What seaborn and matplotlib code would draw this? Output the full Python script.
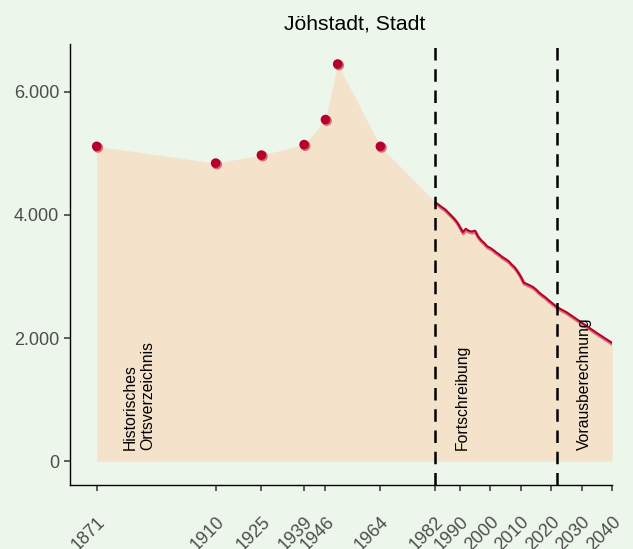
import matplotlib
matplotlib.use("Agg")
import matplotlib.pyplot as plt
import matplotlib.transforms as mtransforms
from matplotlib.ticker import FuncFormatter
import pandas as pd
import seaborn as sns

# Historisches Ortsverzeichnis
hist_years = [1871, 1910, 1925, 1939, 1946, 1950, 1964]
hist_pop = [5113, 4841, 4971, 5141, 5548, 6450, 5113]

# Fortschreibung
fort_years = [1982, 1983, 1984, 1985, 1986, 1987, 1988, 1989, 1990, 1991,
              1992, 1993, 1994, 1995, 1996, 1997, 1998, 1999, 2000, 2001,
              2002, 2003, 2004, 2005, 2006, 2007, 2008, 2009, 2010, 2011,
              2012, 2013, 2014, 2015, 2016, 2017, 2018, 2019, 2020, 2021]
fort_pop = [4205, 4170, 4130, 4098, 4050, 4000, 3950, 3890, 3810, 3720,
            3775, 3740, 3730, 3745, 3650, 3590, 3545, 3490, 3465, 3430,
            3390, 3355, 3315, 3285, 3250, 3195, 3150, 3080, 3000, 2900,
            2880, 2855, 2830, 2790, 2740, 2700, 2665, 2620, 2580, 2540]

# Vorausberechnung
proj_years = [2022, 2025, 2030, 2035, 2040]
proj_pop = [2500, 2420, 2250, 2080, 1920]

tick_years = [1871, 1910, 1925, 1939, 1946, 1964, 1982, 1990, 2000, 2010, 2020, 2030, 2040]
section_lines = [1982, 2022]
section_labels = ["Historisches\nOrtsverzeichnis", "Fortschreibung", "Vorausberechnung"]
label_years = [1885, 1991, 2031]

bg = "#EDF6EB"
fill_col = "#F5E2CB"
dark_red = "#B5002A"
light_red = "#DA6C77"

sns.set_theme(style="ticks")
plt.rcParams["font.family"] = ["Liberation Sans", "DejaVu Sans"]

hist = pd.DataFrame({"Jahr": hist_years, "Einwohner": hist_pop})
fort = pd.DataFrame({"Jahr": fort_years + proj_years, "Einwohner": fort_pop + proj_pop})
alle = pd.concat([hist, fort], ignore_index=True)

fig = plt.figure(figsize=(6.33, 5.49), dpi=100, facecolor=bg)
ax = fig.add_axes([70 / 633, 64 / 549, 542.2 / 633, 441 / 549])
ax.set_facecolor(bg)

ax.fill_between(alle["Jahr"], alle["Einwohner"], 0, color=fill_col, lw=0, zorder=1)

# halo + line
off = mtransforms.ScaledTranslation(0.4 / 72, -1.0 / 72, fig.dpi_scale_trans)
sns.lineplot(data=fort, x="Jahr", y="Einwohner", ax=ax, color=light_red, lw=2.4, zorder=3)
sns.lineplot(data=fort, x="Jahr", y="Einwohner", ax=ax, color=dark_red, lw=1.4, zorder=4)
ax.lines[0].set_transform(ax.lines[0].get_transform() + off)

sns.scatterplot(data=hist, x="Jahr", y="Einwohner", ax=ax, color=light_red, s=55,
                edgecolor="none", zorder=5)
pts = ax.collections[-1]
pts.set_offset_transform(pts.get_offset_transform()
                         + mtransforms.ScaledTranslation(0.9 / 72, -0.9 / 72, fig.dpi_scale_trans))
sns.scatterplot(data=hist, x="Jahr", y="Einwohner", ax=ax, color=dark_red, s=48,
                edgecolor="none", zorder=6)

for x in section_lines:
    ax.axvline(x, color="black", lw=1.8, dashes=(5, 3.5), zorder=7)

for x, txt in zip(label_years, section_labels):
    ax.text(x, 180, txt, rotation=90, ha="center", va="bottom", fontsize=11.3,
            color="black", multialignment="left", zorder=8)

ax.set_xlim(1862.25, 2040)
ax.set_ylim(-387, 6775)
ax.set_xticks(tick_years)
ax.set_xticklabels([str(y) for y in tick_years], rotation=45, ha="right", va="top",
                   rotation_mode="anchor")
ax.set_yticks([0, 2000, 4000, 6000])
ax.yaxis.set_major_formatter(FuncFormatter(lambda v, p: f"{int(v):,}".replace(",", ".")))
ax.tick_params(axis="both", colors="#333333", labelcolor="#4D4D4D", labelsize=13,
               length=4.3, width=1.1)
ax.tick_params(axis="x", pad=16)
ax.tick_params(axis="y", pad=3.5)
for side in ["top", "right"]:
    ax.spines[side].set_visible(False)
for side in ["left", "bottom"]:
    ax.spines[side].set_color("black")
    ax.spines[side].set_linewidth(1.0)
ax.set_xlabel("")
ax.set_ylabel("")
fig.text(355 / 633, 1 - 29.3 / 549, "Jöhstadt, Stadt", ha="center", va="baseline",
         fontsize=15.2, color="black")

fig.savefig("out.png", dpi=100, facecolor=bg)
